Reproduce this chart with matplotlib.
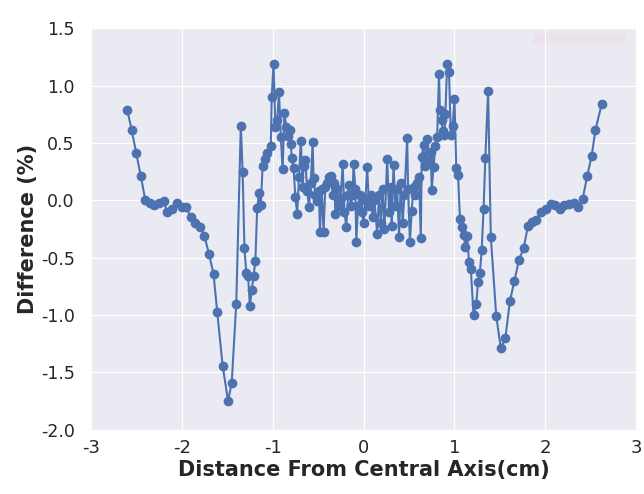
import matplotlib.pyplot as plt
import matplotlib.patches as patches
import seaborn as sns

# distance from central axis (cm) and dose difference (%)
distance = [
    -2.60, -2.55, -2.50, -2.45, -2.40, -2.35, -2.30, -2.25, -2.20, -2.16,
    -2.11, -2.05, -2.00, -1.95, -1.90, -1.85, -1.80, -1.75, -1.70, -1.65,
    -1.61, -1.55, -1.49, -1.45, -1.40, -1.35, -1.33, -1.31, -1.29, -1.27,
    -1.25, -1.23, -1.21, -1.19, -1.17, -1.15, -1.13, -1.11, -1.08, -1.06,
    -1.02, -1.01, -0.99, -0.97, -0.95, -0.93, -0.91, -0.89, -0.87, -0.85,
    -0.83, -0.81, -0.80, -0.79, -0.77, -0.75, -0.73, -0.71, -0.69, -0.67,
    -0.66, -0.64, -0.62, -0.60, -0.58, -0.56, -0.55, -0.53, -0.51, -0.49,
    -0.48, -0.46, -0.44, -0.42, -0.40, -0.38, -0.36, -0.34, -0.32, -0.31,
    -0.29, -0.27, -0.25, -0.23, -0.21, -0.19, -0.17, -0.16, -0.14, -0.12,
    -0.11, -0.09, -0.08, -0.06, -0.04, -0.02, 0.00, 0.02, 0.04, 0.06,
    0.08, 0.10, 0.12, 0.15, 0.17, 0.19, 0.21, 0.23, 0.26, 0.28,
    0.30, 0.31, 0.33, 0.35, 0.37, 0.39, 0.41, 0.43, 0.45, 0.48,
    0.49, 0.51, 0.53, 0.55, 0.57, 0.59, 0.61, 0.63, 0.64, 0.66,
    0.68, 0.70, 0.72, 0.74, 0.75, 0.77, 0.79, 0.81, 0.83, 0.84,
    0.86, 0.87, 0.89, 0.90, 0.92, 0.94, 0.96, 0.98, 1.00, 1.02,
    1.04, 1.06, 1.08, 1.10, 1.12, 1.14, 1.16, 1.18, 1.21, 1.24,
    1.26, 1.28, 1.30, 1.32, 1.34, 1.37, 1.40, 1.46, 1.51, 1.56,
    1.61, 1.66, 1.71, 1.76, 1.81, 1.85, 1.90, 1.95, 2.01, 2.06,
    2.11, 2.16, 2.21, 2.26, 2.31, 2.36, 2.41, 2.46, 2.51, 2.55,
    2.62,
]
difference = [
    0.79, 0.61, 0.41, 0.21, 0.00, -0.02, -0.04, -0.02, -0.01, -0.10,
    -0.08, -0.02, -0.06, -0.06, -0.15, -0.20, -0.23, -0.31, -0.47, -0.64,
    -0.97, -1.44, -1.75, -1.59, -0.90, 0.65, 0.25, -0.42, -0.63, -0.66,
    -0.92, -0.78, -0.66, -0.53, -0.07, 0.06, -0.04, 0.30, 0.36, 0.41,
    0.47, 0.90, 1.19, 0.64, 0.70, 0.94, 0.55, 0.27, 0.76, 0.64,
    0.56, 0.61, 0.49, 0.37, 0.28, 0.03, -0.12, 0.20, 0.52, 0.12,
    0.30, 0.35, 0.08, -0.06, 0.15, 0.51, 0.19, 0.05, -0.01, 0.08,
    -0.28, 0.10, -0.28, 0.12, 0.15, 0.20, 0.21, 0.05, 0.15, -0.12,
    0.10, -0.05, 0.02, 0.32, -0.10, -0.23, 0.05, 0.13, -0.05, 0.05,
    0.32, 0.10, -0.36, -0.05, 0.05, -0.10, -0.20, 0.00, 0.29, -0.05,
    0.05, -0.15, 0.00, -0.29, 0.05, -0.20, 0.10, -0.25, 0.36, -0.10,
    0.12, -0.22, 0.31, -0.05, 0.10, -0.32, 0.15, -0.20, 0.05, 0.54,
    0.10, -0.36, -0.09, 0.12, 0.05, 0.15, 0.20, -0.33, 0.38, 0.48,
    0.30, 0.53, 0.35, 0.42, 0.09, 0.29, 0.47, 0.55, 1.10, 0.79,
    0.70, 0.60, 0.57, 0.75, 1.19, 1.12, 0.57, 0.65, 0.88, 0.28,
    0.22, -0.16, -0.23, -0.30, -0.41, -0.31, -0.54, -0.60, -1.00, -0.90,
    -0.71, -0.63, -0.43, -0.08, 0.37, 0.95, -0.32, -1.01, -1.29, -1.20,
    -0.88, -0.70, -0.52, -0.42, -0.22, -0.19, -0.17, -0.10, -0.08, -0.03,
    -0.04, -0.08, -0.04, -0.03, -0.02, -0.06, 0.01, 0.21, 0.39, 0.61,
    0.84,
]

sns.set_style("darkgrid")

fig = plt.figure(figsize=(6.44, 4.94), dpi=100)
ax = fig.add_axes([0.141, 0.13, 0.847, 0.813])

ax.plot(distance, difference, color="#4c72b0", marker="o", markersize=6,
        linewidth=1.5)

# faint patch near top right (left over in the original picture)
ax.add_patch(patches.Rectangle((0.81, 0.96), 0.17, 0.027, transform=ax.transAxes,
                               color="#ebe2ec", zorder=0.4, linewidth=0))

ax.set_xlim(-3, 3)
ax.set_ylim(-2.0, 1.5)
ax.set_xticks([-3, -2, -1, 0, 1, 2, 3])
ax.set_yticks([-2.0, -1.5, -1.0, -0.5, 0.0, 0.5, 1.0, 1.5])
ax.set_yticklabels(["-2.0", "-1.5", "-1.0", "-0.5", "0.0", "0.5", "1.0", "1.5"])
ax.set_xticklabels(["-3", "-2", "-1", "0", "1", "2", "3"])
ax.tick_params(axis="y", labelsize=12.5, pad=8)
ax.tick_params(axis="x", labelsize=13, pad=3)
for lab in ax.get_xticklabels() + ax.get_yticklabels():
    lab.set_family("DejaVu Sans")

ax.set_xlabel("Distance From Central Axis(cm)", fontsize=15, fontweight="bold",
              family="DejaVu Sans", labelpad=2)
ax.set_ylabel("Difference (%)", fontsize=15, fontweight="bold",
              family="DejaVu Sans", labelpad=2)

fig.savefig("out.png", dpi=100)
